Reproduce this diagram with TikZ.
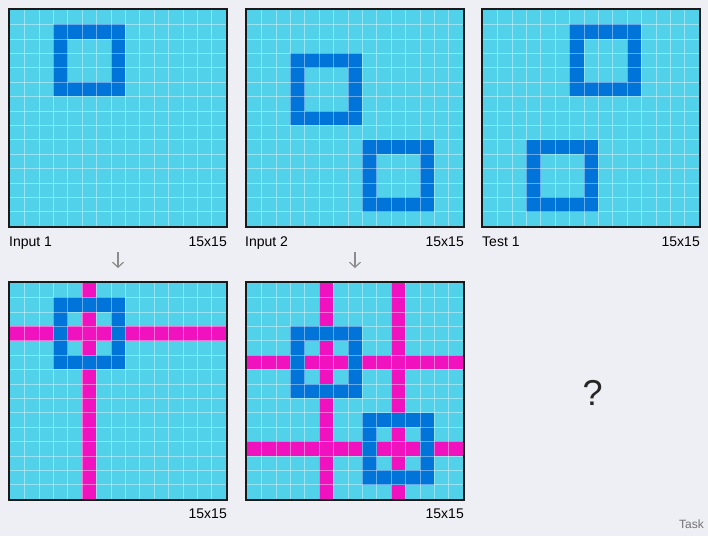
\documentclass[tikz,border=0pt]{standalone}
\usepackage{fontspec}
\setmainfont{Liberation Sans}
\usetikzlibrary{positioning,arrows.meta}

\definecolor{bgcol}{HTML}{EEEEF5}
\definecolor{cyancell}{HTML}{52D1EA}
\definecolor{bluecell}{HTML}{0074D9}
\definecolor{pinkcell}{HTML}{F012BE}
\definecolor{framecol}{HTML}{1A1A1A}

\begin{document}
\begin{tikzpicture}[x=1pt, y=-1pt,
  cellgrid/.style={white, opacity=0.4, line width=0.6pt},
  frame/.style={draw=framecol, line width=2pt},
  gridlabel/.style={font=\fontsize{14}{16}\selectfont, text=black, inner sep=0pt},
  flow/.style={draw=black!45, line width=1.2pt, -{Straight Barb[length=5pt,width=11pt]}}]

% page and the five 15x15 grids
\fill[bgcol] (0,0) rectangle (708,536);
\useasboundingbox (0,0) rectangle (708,536);

\foreach \gx/\gy in {10/10, 247/10, 483/10, 10/283, 247/283} {
  \fill[cyancell] (\gx,\gy) rectangle ++(216,216);
}

% Input 1
\begin{scope}[shift={(10,10)}, x=14.4pt, y=-14.4pt]
  \fill[bluecell] (3,1) rectangle (8,6);
  \fill[cyancell] (4,2) rectangle (7,5);
\end{scope}

% Input 2
\begin{scope}[shift={(247,10)}, x=14.4pt, y=-14.4pt]
  \foreach \c/\r in {3/3, 8/9} {
    \fill[bluecell] (\c,\r) rectangle ++(5,5);
    \fill[cyancell] (\c+1,\r+1) rectangle ++(3,3);
  }
\end{scope}

% Test 1
\begin{scope}[shift={(483,10)}, x=14.4pt, y=-14.4pt]
  \foreach \c/\r in {6/1, 3/9} {
    \fill[bluecell] (\c,\r) rectangle ++(5,5);
    \fill[cyancell] (\c+1,\r+1) rectangle ++(3,3);
  }
\end{scope}

% Output 1
\begin{scope}[shift={(10,283)}, x=14.4pt, y=-14.4pt]
  \fill[pinkcell] (5,0) rectangle (6,15);
  \fill[pinkcell] (0,3) rectangle (15,4);
  \fill[bluecell] (3,1) rectangle (8,6);
  \fill[cyancell] (4,2) rectangle (7,5);
  \fill[pinkcell] (4,3) rectangle (7,4);
  \fill[pinkcell] (5,2) rectangle (6,5);
\end{scope}

% Output 2
\begin{scope}[shift={(247,283)}, x=14.4pt, y=-14.4pt]
  \foreach \c/\r in {3/3, 8/9} {
    \fill[pinkcell] (\c+2,0) rectangle ++(1,15);
    \fill[pinkcell] (0,\r+2) rectangle ++(15,1);
  }
  \foreach \c/\r in {3/3, 8/9} {
    \fill[bluecell] (\c,\r) rectangle ++(5,5);
    \fill[cyancell] (\c+1,\r+1) rectangle ++(3,3);
    \fill[pinkcell] (\c+1,\r+2) rectangle ++(3,1);
    \fill[pinkcell] (\c+2,\r+1) rectangle ++(1,3);
  }
\end{scope}

% cell lines and frames
\foreach \gx/\gy in {10/10, 247/10, 483/10, 10/283, 247/283} {
  \begin{scope}[shift={(\gx,\gy)}, x=14.4pt, y=-14.4pt]
    \foreach \i in {1,...,14} {
      \draw[cellgrid] (\i,0) -- (\i,15);
      \draw[cellgrid] (0,\i) -- (15,\i);
    }
    \draw[frame] (-0.07,-0.07) rectangle (15.07,15.07);
  \end{scope}
}

\node[gridlabel, anchor=base west] (in1) at (9,246) {Input 1};
\node[gridlabel, anchor=base east] (in1size) at (227,246) {15x15};
\node[gridlabel, anchor=base west] (in2) at (245,246) {Input 2};
\node[gridlabel, anchor=base east] (in2size) at (464,246) {15x15};
\node[gridlabel, anchor=base west] (test1) at (482,246) {Test 1};
\node[gridlabel, anchor=base east] (test1size) at (700,246) {15x15};
\node[gridlabel, anchor=base east] (out1size) at (227,518) {15x15};
\node[gridlabel, anchor=base east] (out2size) at (464,518) {15x15};

\coordinate (arr1top) at (118,252);
\coordinate (arr1bot) at (118,268);
\coordinate (arr2top) at (355,252);
\coordinate (arr2bot) at (355,268);
\draw[flow] (arr1top) -- (arr1bot);
\draw[flow] (arr2top) -- (arr2bot);

\node[inner sep=0pt, text=black!85, font=\fontsize{36}{40}\selectfont] (answer) at (592.5,392.5) {?};
\node[inner sep=0pt, text=black!55, font=\fontsize{12}{14}\selectfont, anchor=base east] (task) at (704,528) {Task};

\end{tikzpicture}
\end{document}
